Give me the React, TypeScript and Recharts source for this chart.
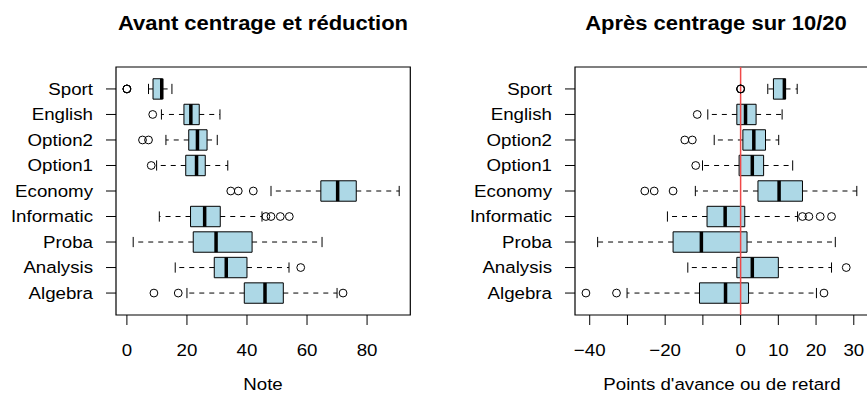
import React from 'react';
import { ScatterChart, Scatter, XAxis, YAxis, ReferenceArea, ReferenceLine } from 'recharts';

const FONT = '"Liberation Sans", Arial, Helvetica, sans-serif';
const STRETCH = 1.12;

// Categories, bottom (position 1) to top (position 9)
const categories = ['Algebra', 'Analysis', 'Proba', 'Informatic', 'Economy', 'Option1', 'Option2', 'English', 'Sport'];

// Left panel: "Avant centrage et réduction"
const rawLow = [20.0, 16.1, 2.1, 10.8, 48.0, 9.9, 13.0, 11.5, 7.2];
const rawQ1 = [39.1, 29.1, 22.1, 21.2, 64.6, 19.6, 20.6, 19.0, 8.7];
const rawMed = [46.0, 33.1, 29.7, 25.9, 70.2, 23.2, 23.5, 21.3, 11.6];
const rawQ3 = [52.1, 40.0, 41.7, 31.1, 76.4, 26.1, 26.7, 24.1, 11.9];
const rawHigh = [70.0, 54.0, 65.0, 45.0, 90.7, 33.6, 30.1, 31.0, 15.0];
const rawOut = [[9.0, 17.1, 72.0], [57.9], [], [46.3, 48.0, 51.1, 54.1], [34.6, 37.1, 42.1], [8.1], [5.2, 7.2], [8.6], [0, 0, 0]];
const rawTicks = [0, 20, 40, 60, 80];
const rawTickLabels = ['0', '20', '40', '60', '80'];

// Right panel: "Après centrage sur 10/20"
const ctrLow = [-30.1, -14.0, -37.9, -19.4, -12.0, -10.1, -7.0, -8.7, 7.2];
const ctrQ1 = [-10.9, -1.0, -17.9, -8.9, 4.6, -0.4, 0.6, -1.0, 8.7];
const ctrMed = [-4.0, 3.1, -10.4, -4.1, 10.2, 3.1, 3.5, 1.3, 11.6];
const ctrQ3 = [2.1, 10.0, 1.7, 1.1, 16.4, 6.1, 6.6, 4.1, 11.9];
const ctrHigh = [20.1, 24.1, 25.1, 15.1, 30.8, 13.8, 10.1, 11.0, 15.0];
const ctrOut = [[-41.0, -32.9, 22.1], [28.0], [], [16.4, 18.1, 21.1, 24.1], [-25.4, -22.9, -17.9], [-11.9], [-14.8, -12.8], [-11.5], [0, 0, 0]];
const ctrTicks = [-40, -30, -20, -10, 0, 10, 20, 30];
const ctrTickLabels = ['\u221240', '', '\u221220', '', '0', '10', '20', '30'];

const Y_DOMAIN: [number, number] = [0.14, 9.86];
const Y_TICKS = [1, 2, 3, 4, 5, 6, 7, 8, 9];
const BOX_HALF = 0.4;
const STAPLE_HALF = 0.2;
const BOX_FILL = '#ADD8E6';

type PanelProps = {
  width: number;
  margin: { top: number; right: number; bottom: number; left: number };
  xDomain: [number, number];
  low: number[];
  q1: number[];
  med: number[];
  q3: number[];
  high: number[];
  out: number[][];
  ticks: number[];
  tickLabels: string[];
  redLine?: boolean;
};

function XTick(props: any) {
  const { x, y, payload, labels, ticks } = props;
  const label = labels[ticks.indexOf(payload.value)] ?? '';
  return (
    <text
      transform={`translate(${x},${y}) scale(${STRETCH},1)`}
      x={0}
      y={0}
      dy="0.71em"
      textAnchor="middle"
      fill="#000"
      fontSize={16.7}
      fontFamily={FONT}
    >
      {label}
    </text>
  );
}

function YTick(props: any) {
  const { x, y, payload } = props;
  const label = categories[payload.value - 1] ?? '';
  return (
    <text
      transform={`translate(${x},${y}) scale(${STRETCH},1)`}
      x={0}
      y={0}
      dy="0.355em"
      textAnchor="end"
      fill="#000"
      fontSize={16.7}
      fontFamily={FONT}
    >
      {label}
    </text>
  );
}

function Panel(p: PanelProps) {
  const outliers: { x: number; y: number }[] = [];
  p.out.forEach((arr, i) => arr.forEach((v) => outliers.push({ x: v, y: i + 1 })));

  const els: React.ReactElement[] = [];
  categories.forEach((_, i) => {
    const pos = i + 1;
    els.push(
      <ReferenceLine key={`wl${i}`} segment={[{ x: p.q1[i], y: pos }, { x: p.low[i], y: pos }]} stroke="#000" strokeWidth={1} strokeDasharray="5 5" ifOverflow="visible" />,
      <ReferenceLine key={`wh${i}`} segment={[{ x: p.q3[i], y: pos }, { x: p.high[i], y: pos }]} stroke="#000" strokeWidth={1} strokeDasharray="5 5" ifOverflow="visible" />,
      <ReferenceLine key={`sl${i}`} segment={[{ x: p.low[i], y: pos - STAPLE_HALF }, { x: p.low[i], y: pos + STAPLE_HALF }]} stroke="#000" strokeWidth={1} ifOverflow="visible" />,
      <ReferenceLine key={`sh${i}`} segment={[{ x: p.high[i], y: pos - STAPLE_HALF }, { x: p.high[i], y: pos + STAPLE_HALF }]} stroke="#000" strokeWidth={1} ifOverflow="visible" />,
      <ReferenceArea key={`b${i}`} x1={p.q1[i]} x2={p.q3[i]} y1={pos - BOX_HALF} y2={pos + BOX_HALF} fill={BOX_FILL} fillOpacity={1} stroke="#000" strokeWidth={1} ifOverflow="visible" />,
      <ReferenceLine key={`m${i}`} segment={[{ x: p.med[i], y: pos - BOX_HALF }, { x: p.med[i], y: pos + BOX_HALF }]} stroke="#000" strokeWidth={3.5} ifOverflow="visible" />
    );
  });

  return (
    <ScatterChart width={p.width} height={405} margin={p.margin}>
      <XAxis
        type="number"
        dataKey="x"
        domain={p.xDomain}
        allowDataOverflow
        ticks={p.ticks}
        interval={0}
        tick={<XTick labels={p.tickLabels} ticks={p.ticks} />}
        tickSize={10}
        tickMargin={19}
        axisLine={false}
        stroke="#000"
        height={60}
      />
      <YAxis
        type="number"
        dataKey="y"
        domain={Y_DOMAIN}
        allowDataOverflow
        ticks={Y_TICKS}
        interval={0}
        tick={<YTick />}
        tickSize={10}
        tickMargin={13}
        axisLine={false}
        stroke="#000"
        width={100}
      />
      <ReferenceArea x1={p.xDomain[0]} x2={p.xDomain[1]} y1={Y_DOMAIN[0]} y2={Y_DOMAIN[1]} fill="none" stroke="#000" strokeWidth={1.2} ifOverflow="visible" />
      {els}
      <Scatter
        data={outliers}
        isAnimationActive={false}
        shape={(sp: any) => <circle cx={sp.cx} cy={sp.cy} r={3.9} fill="none" stroke="#000" strokeWidth={1} />}
      />
      {p.redLine ? <ReferenceLine x={0} stroke="#f04848" strokeWidth={1.5} ifOverflow="visible" /> : null}
    </ScatterChart>
  );
}

const titleStyle: React.CSSProperties = {
  position: 'absolute',
  top: 11,
  height: 24,
  lineHeight: '24px',
  width: 400,
  textAlign: 'center',
  fontFamily: FONT,
  fontWeight: 'bold',
  fontSize: 20,
  color: '#000',
  whiteSpace: 'nowrap',
  transform: 'scaleX(1.1)',
  transformOrigin: 'center',
};

const xlabStyle: React.CSSProperties = {
  position: 'absolute',
  top: 375,
  height: 20,
  lineHeight: '20px',
  width: 400,
  textAlign: 'center',
  fontFamily: FONT,
  fontSize: 16.7,
  color: '#000',
  whiteSpace: 'nowrap',
  transform: `scaleX(${STRETCH})`,
  transformOrigin: 'center',
};

export default function App() {
  return (
    <div style={{ position: 'absolute', left: 0, top: 0, width: 867, height: 405, overflow: 'hidden', background: '#fff' }}>
      <div style={{ position: 'absolute', left: 0, top: 0 }}>
        <Panel
          width={433}
          margin={{ top: 67, right: 22.7, bottom: 30, left: 16 }}
          xDomain={[-3.63, 94.4]}
          low={rawLow}
          q1={rawQ1}
          med={rawMed}
          q3={rawQ3}
          high={rawHigh}
          out={rawOut}
          ticks={rawTicks}
          tickLabels={rawTickLabels}
        />
      </div>
      <div style={{ position: 'absolute', left: 433, top: 0 }}>
        <Panel
          width={450}
          margin={{ top: 67, right: 14.5, bottom: 30, left: 42 }}
          xDomain={[-43.9, 33.9]}
          low={ctrLow}
          q1={ctrQ1}
          med={ctrMed}
          q3={ctrQ3}
          high={ctrHigh}
          out={ctrOut}
          ticks={ctrTicks}
          tickLabels={ctrTickLabels}
          redLine
        />
      </div>
      <div style={{ ...titleStyle, left: 263 - 200 }}>Avant centrage et réduction</div>
      <div style={{ ...titleStyle, left: 716 - 200 }}>Après centrage sur 10/20</div>
      <div style={{ ...xlabStyle, left: 263 - 200 }}>Note</div>
      <div style={{ ...xlabStyle, left: 722 - 200 }}>Points d'avance ou de retard</div>
    </div>
  );
}
